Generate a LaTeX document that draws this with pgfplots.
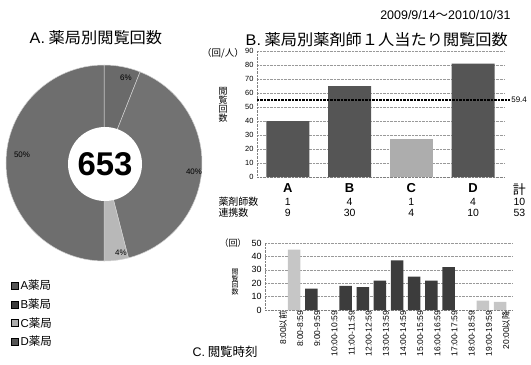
\documentclass[border=0pt]{standalone}
\usepackage{fontspec}
\setmainfont{Noto Sans CJK JP}
\newfontfamily\lat{Liberation Sans}
\usepackage{pgfplots}
\pgfplotsset{compat=1.18}
\definecolor{pieA}{HTML}{6A6A6A}
\definecolor{pieB}{HTML}{727272}
\definecolor{pieC}{HTML}{B8B8B8}
\definecolor{pieD}{HTML}{6E6E6E}
\definecolor{barD}{HTML}{555555}
\definecolor{barL}{HTML}{ADADAD}
\definecolor{timeD}{HTML}{3C3C3C}
\definecolor{timeL}{HTML}{C6C6C6}
\newcommand{\fs}[1]{\fontsize{#1}{#1}\selectfont}
\begin{document}
\begin{tikzpicture}[x=1bp,y=1bp]
\useasboundingbox (0,0) rectangle (531,364);
% titles
\node[anchor=west,font=\fs{15.5},xscale=1.05] at (26,326) {{\lat A.} 薬局別閲覧回数};
\node[anchor=west,font=\fs{15.5},xscale=1.05] at (242,324) {{\lat B.} 薬局別薬剤師１人当たり閲覧回数};
\node[anchor=east,font=\fs{12.5}] at (514,349) {{\lat 2009/9/14}～{\lat 2010/10/31}};
\node[anchor=west,font=\fs{12.5}] at (189,12) {{\lat C.} 閲覧時刻};
% ---------- A: donut ----------
\begin{axis}[at={(4bp,101bp)},anchor=south west,scale only axis,width=200bp,height=200bp,
  xmin=-100,xmax=100,ymin=-100,ymax=100,hide axis,clip=false,
  legend image code/.code={\fill[#1] (0bp,-3.5bp) rectangle (7bp,3.5bp);},
  legend style={draw=none,fill=none,at={(axis cs:-93,-115)},anchor=north west,
    font=\fs{11.5},row sep=3.5bp,inner sep=0pt,
    /tikz/every even column/.append style={column sep=5bp}},
  legend cell align=left]
\fill[pieA,draw=gray!35,line width=0.5pt] (axis cs:0,0) -- ([shift={(90:98bp)}]axis cs:0,0) arc[start angle=90,end angle=68.4,radius=98bp] -- cycle;
\fill[pieB,draw=gray!35,line width=0.5pt] (axis cs:0,0) -- ([shift={(68.4:98bp)}]axis cs:0,0) arc[start angle=68.4,end angle=-75.6,radius=98bp] -- cycle;
\fill[pieC,draw=gray!35,line width=0.5pt] (axis cs:0,0) -- ([shift={(-75.6:98bp)}]axis cs:0,0) arc[start angle=-75.6,end angle=-90,radius=98bp] -- cycle;
\fill[pieD,draw=gray!35,line width=0.5pt] (axis cs:0,0) -- ([shift={(-90:98bp)}]axis cs:0,0) arc[start angle=-90,end angle=-270,radius=98bp] -- cycle;
\fill[white] (axis cs:1,-1) circle[radius=37bp];
\node[font=\lat\bfseries\fs{33}] at (axis cs:1,-1) {653};
\node[font=\lat\fs{8}] at (axis cs:22,85) {6\%};
\node[font=\lat\fs{8}] at (axis cs:90,-9) {40\%};
\node[font=\lat\fs{8}] at (axis cs:17,-90) {4\%};
\node[font=\lat\fs{8}] at (axis cs:-82,8) {50\%};
\addlegendimage{fill=barD}\addlegendentry{{\lat A}薬局}
\addlegendimage{fill=timeD}\addlegendentry{{\lat B}薬局}
\addlegendimage{fill=barL}\addlegendentry{{\lat C}薬局}
\addlegendimage{fill=barD}\addlegendentry{{\lat D}薬局}
\end{axis}
% ---------- B: per pharmacist ----------
\node[font=\fs{9.5}] at (223,311) {（回/人）};
\node[font=\fs{9},align=center,inner sep=0pt] at (223,259) {\fontsize{9}{10.5}\selectfont 閲\\覧\\回\\数};
\node[anchor=west,font=\fs{10}] at (215,162) {薬剤師数};
\node[anchor=west,font=\fs{10}] at (215,151) {連携数};
\begin{axis}[at={(257bp,187bp)},anchor=south west,scale only axis,width=247bp,height=126bp,
  xmin=-0.5,xmax=3.5,ymin=0,ymax=90,ytick={0,10,...,90},
  xtick={0,1,2,3},xticklabels={A,B,C,D},
  xticklabel style={font=\lat\bfseries\fs{13},yshift=-3bp},
  yticklabel style={font=\lat\fs{7.5}},
  /pgf/number format/assume math mode=true,
  ymajorgrids,grid style={densely dotted,gray!80},
  axis lines*=left,axis line style={densely dotted,gray},
  major tick length=0,bar width=43bp,clip=false]
\addplot[ybar,bar shift=0,fill=barD,draw=none] coordinates {(0,40) (1,65) (3,81)};
\addplot[ybar,bar shift=0,fill=barL,draw=none] coordinates {(2,27)};
\addplot[sharp plot,black,line width=1.1pt,dash pattern=on 2.5pt off 1pt] coordinates {(-0.5,55) (3.6,55)};
\node[anchor=west,font=\lat\fs{8},inner sep=1pt] at (axis cs:3.6,55) {59.4};
\node[font=\lat\fs{10.5}] at (axis cs:0,0) [yshift=-25bp] {1};
\node[font=\lat\fs{10.5}] at (axis cs:1,0) [yshift=-25bp] {4};
\node[font=\lat\fs{10.5}] at (axis cs:2,0) [yshift=-25bp] {1};
\node[font=\lat\fs{10.5}] at (axis cs:3,0) [yshift=-25bp] {4};
\node[font=\lat\fs{10.5}] at (axis cs:3.75,0) [yshift=-25bp] {10};
\node[font=\lat\fs{10.5}] at (axis cs:0,0) [yshift=-36bp] {9};
\node[font=\lat\fs{10.5}] at (axis cs:1,0) [yshift=-36bp] {30};
\node[font=\lat\fs{10.5}] at (axis cs:2,0) [yshift=-36bp] {4};
\node[font=\lat\fs{10.5}] at (axis cs:3,0) [yshift=-36bp] {10};
\node[font=\lat\fs{10.5}] at (axis cs:3.75,0) [yshift=-36bp] {53};
\node[font=\fs{13}] at (axis cs:3.75,0) [yshift=-13bp] {計};
\end{axis}
% ---------- C: time of day ----------
\node[font=\fs{9}] at (233,121) {（回）};
\node[font=\fs{7},align=center,inner sep=0pt] at (235,82) {\fontsize{7}{10}\selectfont 閲\\覧\\回\\数};
\begin{axis}[at={(265bp,54bp)},anchor=south west,scale only axis,width=247bp,height=67bp,
  xmin=-0.7,xmax=13.7,ymin=0,ymax=50,ytick={0,10,...,50},
  xtick={0,...,13},
  xticklabels={{{\lat 8:00}以前},{\lat 8:00-8:59},{\lat 9:00-9:59},{\lat 10:00-10:59},{\lat 11:00-11:59},{\lat 12:00-12:59},{\lat 13:00-13:59},{\lat 14:00-14:59},{\lat 15:00-15:59},{\lat 16:00-16:59},{\lat 17:00-17:59},{\lat 18:00-18:59},{\lat 19:00-19:59},{{\lat 20:00}以降}},
  xticklabel style={rotate=90,anchor=east,font=\fs{8.5},inner sep=1pt,yshift=-6bp},
  yticklabel style={font=\lat\fs{9}},
  /pgf/number format/assume math mode=true,
  ymajorgrids,grid style={densely dotted,gray!80},
  axis lines*=left,axis line style={densely dotted,gray},
  major tick length=0,bar width=12.5bp,clip=false]
\addplot[ybar,bar shift=0,fill=timeD,draw=none] coordinates {(2,16) (4,18) (5,17) (6,22) (7,37) (8,25) (9,22) (10,32)};
\addplot[ybar,bar shift=0,fill=timeL,draw=none] coordinates {(1,45) (12,7) (13,6)};
\end{axis}
\end{tikzpicture}
\end{document}
